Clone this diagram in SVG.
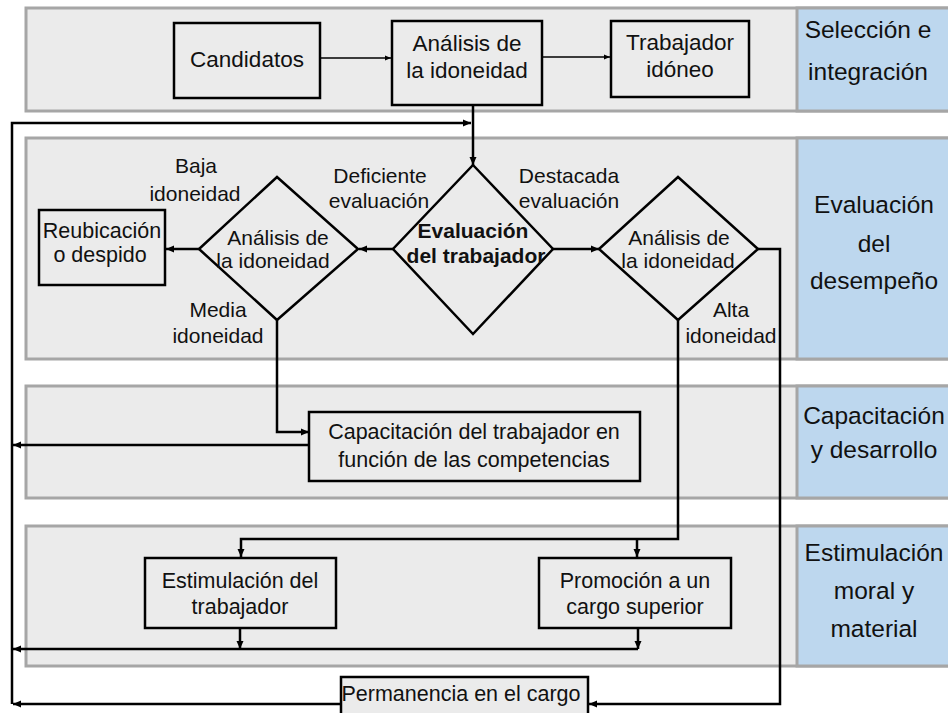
<svg xmlns="http://www.w3.org/2000/svg" width="948" height="713" viewBox="0 0 948 713">
<defs>
<marker id="ah" markerUnits="userSpaceOnUse" markerWidth="9" markerHeight="8" refX="8" refY="4" orient="auto"><path d="M0,0.5 L8,4 L0,7.5 z" fill="#000"/></marker>
<marker id="as" markerUnits="userSpaceOnUse" markerWidth="7" markerHeight="6" refX="6" refY="3" orient="auto"><path d="M0,0.5 L6,3 L0,5.5 z" fill="#000"/></marker>
</defs>
<style>
.band{fill:#ebebeb;stroke:#a6a6a6;stroke-width:3}
.side{fill:#bdd7ee;stroke:#a6a6a6;stroke-width:3}
.box{fill:#ebebeb;stroke:#000;stroke-width:2.5}
.dia{fill:#ebebeb;stroke:#000;stroke-width:2.5}
text{font-family:"Liberation Sans",Arial,sans-serif;fill:#111;text-anchor:middle}
.t{font-size:21.5px}
.tb{font-size:22.5px}
.lab{font-size:21px}
.sl{font-size:24.5px}
.bold{font-size:21px;font-weight:bold}
.c{fill:none;stroke:#000;stroke-width:2.5}
.cs{fill:none;stroke:#000;stroke-width:1.5}
</style>
<rect width="948" height="713" fill="#fff"/>
<g id="bands">
<rect class="band" x="26" y="8" width="940" height="103"/>
<rect class="side" x="797" y="8" width="170" height="103"/>
<rect class="band" x="26" y="138" width="940" height="221"/>
<rect class="side" x="797" y="138" width="170" height="221"/>
<rect class="band" x="26" y="386" width="940" height="112"/>
<rect class="side" x="797" y="386" width="170" height="112"/>
<rect class="band" x="26" y="526" width="940" height="140"/>
<rect class="side" x="797" y="526" width="170" height="140"/>
</g>
<g id="side-labels">
<text class="sl" x="868" y="38">Selección e</text>
<text class="sl" x="868" y="80">integración</text>
<text class="sl" x="874" y="213">Evaluación</text>
<text class="sl" x="874" y="252">del</text>
<text class="sl" x="874" y="289">desempeño</text>
<text class="sl" x="874" y="424">Capacitación</text>
<text class="sl" x="874" y="458">y desarrollo</text>
<text class="sl" x="874" y="561">Estimulación</text>
<text class="sl" x="874" y="599">moral y</text>
<text class="sl" x="874" y="637">material</text>
</g>
<g id="connectors">
<path class="cs" d="M320,58 H391" marker-end="url(#as)"/>
<path class="cs" d="M542,57 H610" marker-end="url(#as)"/>
<path class="c" d="M473,105 V165" marker-end="url(#ah)"/>
<path class="c" d="M12,704 V123 H471" marker-end="url(#ah)"/>
<path class="c" d="M393,249 H359" marker-end="url(#ah)"/>
<path class="c" d="M199,249 H166" marker-end="url(#ah)"/>
<path class="c" d="M277,320 V432 H309" marker-end="url(#ah)"/>
<path class="c" d="M309,445 H13" marker-end="url(#ah)"/>
<path class="c" d="M553,249 H599" marker-end="url(#ah)"/>
<path class="c" d="M758,249 H780 V704 H589" marker-end="url(#ah)"/>
<path class="c" d="M678,320 V539 H241 V557" marker-end="url(#ah)"/>
<path class="c" d="M637,539 V557" marker-end="url(#ah)"/>
<path class="c" d="M240,628 V649" marker-end="url(#ah)"/>
<path class="c" d="M638,628 V649" marker-end="url(#ah)"/>
<path class="c" d="M638,649 H13" marker-end="url(#ah)"/>
<path class="c" d="M341,704 H13" marker-end="url(#ah)"/>
</g>
<g id="candidatos">
<rect class="box" x="174" y="23" width="146" height="75"/>
<text class="tb" x="247" y="67">Candidatos</text>
</g>
<g id="analisis-1">
<rect class="box" x="392" y="21" width="150" height="84"/>
<text class="tb" x="467" y="51">Análisis de</text>
<text class="tb" x="467" y="78">la idoneidad</text>
</g>
<g id="trabajador-idoneo">
<rect class="box" x="611" y="21" width="138" height="76"/>
<text class="tb" x="680" y="50">Trabajador</text>
<text class="tb" x="680" y="77">idóneo</text>
</g>
<g id="evaluacion">
<polygon class="dia" points="473,165 553,249 473,334 393,249"/>
<text class="bold" x="473" y="238">Evaluación</text>
<text class="bold" x="476" y="263">del trabajador</text>
</g>
<g id="analisis-2">
<polygon class="dia" points="277,177 358,249 277,320 199,249"/>
<text class="lab" x="278" y="245">Análisis de</text>
<text class="lab" x="273" y="268">la idoneidad</text>
</g>
<g id="analisis-3">
<polygon class="dia" points="678,177 758,249 678,320 599,249"/>
<text class="lab" x="679" y="245">Análisis de</text>
<text class="lab" x="678" y="268">la idoneidad</text>
</g>
<g id="reubicacion">
<rect class="box" x="39" y="210" width="126" height="75"/>
<text class="t" x="102" y="238">Reubicación</text>
<text class="t" x="100" y="262">o despido</text>
</g>
<g id="capacitacion">
<rect class="box" x="309" y="412" width="331" height="69"/>
<text class="t" x="474" y="439">Capacitación del trabajador en</text>
<text class="t" x="474" y="467">función de las competencias</text>
</g>
<g id="estimulacion">
<rect class="box" x="145" y="558" width="191" height="70"/>
<text class="t" x="240" y="588">Estimulación del</text>
<text class="t" x="240" y="614">trabajador</text>
</g>
<g id="promocion">
<rect class="box" x="539" y="558" width="192" height="70"/>
<text class="t" x="635" y="588">Promoción a un</text>
<text class="t" x="635" y="614">cargo superior</text>
</g>
<g id="permanencia">
<rect class="box" x="341" y="677" width="247" height="50"/>
<text class="t" x="461" y="701">Permanencia en el cargo</text>
</g>
<g id="labels">
<text class="lab" x="196" y="173">Baja</text>
<text class="lab" x="195" y="201">idoneidad</text>
<text class="lab" x="380" y="183">Deficiente</text>
<text class="lab" x="379" y="208">evaluación</text>
<text class="lab" x="569" y="183">Destacada</text>
<text class="lab" x="569" y="208">evaluación</text>
<text class="lab" x="218" y="317">Media</text>
<text class="lab" x="218" y="343">idoneidad</text>
<text class="lab" x="731" y="317">Alta</text>
<text class="lab" x="731" y="343">idoneidad</text>
</g>
</svg>
